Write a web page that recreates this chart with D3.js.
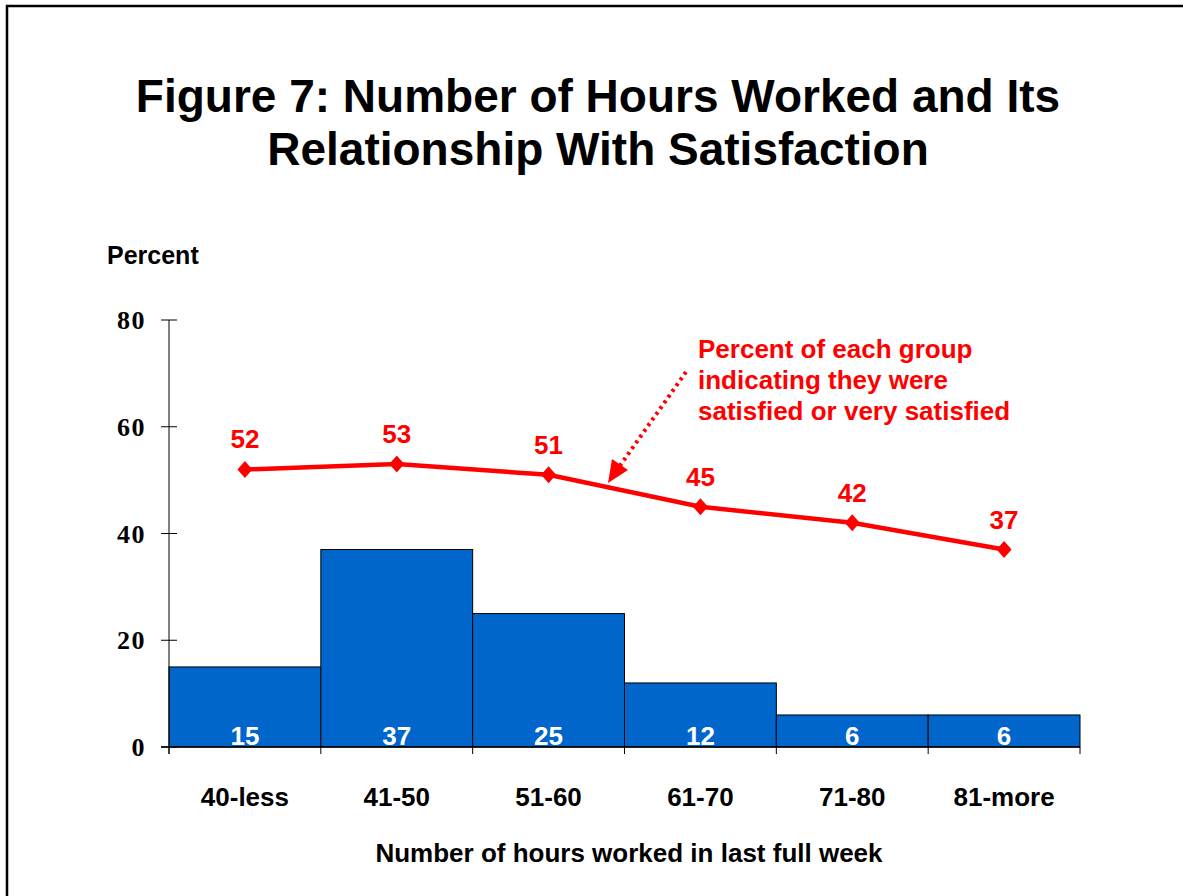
<!DOCTYPE html>
<html><head><meta charset="utf-8">
<script src="https://cdn.jsdelivr.net/npm/d3@7"></script>
<style>body{margin:0;background:#fff}svg{display:block}</style>
</head><body>
<svg id="c" width="1183" height="896"></svg>
<script>
const categories = ["40-less","41-50","51-60","61-70","71-80","81-more"];
const barValues = [15,37,25,12,6,6];
const satisfied = [52,53,51,45,42,37];
const yTicks = [0,20,40,60,80];
const titleLines = ["Figure 7: Number of Hours Worked and Its","Relationship With Satisfaction"];
const noteLines = ["Percent of each group","indicating they were","satisfied or very satisfied"];

const svg = d3.select("#c");
const sans = "Arial, 'Liberation Sans', sans-serif";
const serif = "'Times New Roman', 'Liberation Serif', serif";
const red = "#FF0000";

// frame
svg.append("rect").attr("x",7).attr("y",6).attr("width",1300).attr("height",1000)
  .attr("fill","none").attr("stroke","#000").attr("stroke-width",2.5);

const x = d3.scaleBand().domain(categories).range([169,1080]).padding(0);
const y = d3.scaleLinear().domain([0,80]).range([747,320]);

// title
svg.selectAll("text.title").data(titleLines).join("text").attr("class","title")
  .attr("x",598).attr("y",(d,i)=>112+i*53).attr("text-anchor","middle")
  .attr("font-family",sans).attr("font-weight","bold").attr("font-size",46).text(d=>d);

svg.append("text").attr("x",107).attr("y",264).attr("font-family",sans)
  .attr("font-weight","bold").attr("font-size",25).text("Percent");

// bars
svg.selectAll("rect.bar").data(barValues).join("rect").attr("class","bar")
  .attr("x",(d,i)=>x(categories[i])).attr("width",x.bandwidth())
  .attr("y",d=>y(d)).attr("height",d=>y(0)-y(d))
  .attr("fill","#0066CC").attr("stroke","#000").attr("stroke-width",1);

svg.selectAll("text.bv").data(barValues).join("text").attr("class","bv")
  .attr("x",(d,i)=>x(categories[i])+x.bandwidth()/2).attr("y",745)
  .attr("text-anchor","middle").attr("fill","#fff").attr("font-family",sans)
  .attr("font-weight","bold").attr("font-size",26).text(d=>d);

// y axis
svg.append("line").attr("x1",169).attr("x2",169).attr("y1",y(80)).attr("y2",y(0)+7).attr("stroke","#000");
svg.selectAll("line.yt").data(yTicks).join("line").attr("class","yt")
  .attr("x1",161).attr("x2",177).attr("y1",d=>y(d)).attr("y2",d=>y(d)).attr("stroke","#000");
svg.selectAll("text.yl").data(yTicks).join("text").attr("class","yl")
  .attr("x",146).attr("y",d=>y(d)).attr("dy","0.35em").attr("text-anchor","end")
  .attr("font-family",serif).attr("font-weight","bold").attr("font-size",26)
  .attr("letter-spacing",1.5).text(d=>d);

// x axis
svg.append("line").attr("x1",161).attr("x2",1080).attr("y1",y(0)).attr("y2",y(0)).attr("stroke","#000").attr("stroke-width",1.5);
const bounds = categories.map(c=>x(c)).concat([x.range()[1]]);
svg.selectAll("line.xt").data(bounds).join("line").attr("class","xt")
  .attr("x1",d=>d).attr("x2",d=>d).attr("y1",y(0)).attr("y2",y(0)+7).attr("stroke","#000");
svg.selectAll("text.xl").data(categories).join("text").attr("class","xl")
  .attr("x",d=>x(d)+x.bandwidth()/2).attr("y",806).attr("text-anchor","middle")
  .attr("font-family",sans).attr("font-weight","bold").attr("font-size",26).text(d=>d);
svg.append("text").attr("x",629).attr("y",862).attr("text-anchor","middle")
  .attr("font-family",sans).attr("font-weight","bold").attr("font-size",26)
  .text("Number of hours worked in last full week");

// line
const cx = (d,i)=>x(categories[i])+x.bandwidth()/2;
svg.append("path").datum(satisfied)
  .attr("d",d3.line().x(cx).y(d=>y(d)))
  .attr("fill","none").attr("stroke",red).attr("stroke-width",4.5);
svg.selectAll("path.mk").data(satisfied).join("path").attr("class","mk")
  .attr("transform",(d,i)=>`translate(${cx(d,i)},${y(d)})`)
  .attr("d","M0,-8.5L7.5,0L0,8.5L-7.5,0Z").attr("fill",red);
svg.selectAll("text.lv").data(satisfied).join("text").attr("class","lv")
  .attr("x",cx).attr("y",d=>y(d)-21).attr("text-anchor","middle")
  .attr("fill",red).attr("font-family",sans).attr("font-weight","bold").attr("font-size",26).text(d=>d);

// annotation
svg.selectAll("text.note").data(noteLines).join("text").attr("class","note")
  .attr("x",698).attr("y",(d,i)=>358+i*31).attr("fill",red)
  .attr("font-family",sans).attr("font-weight","bold").attr("font-size",26).text(d=>d);
svg.append("line").attr("x1",686).attr("y1",372).attr("x2",619).attr("y2",467)
  .attr("stroke",red).attr("stroke-width",4).attr("stroke-dasharray","3,4");
svg.append("path").attr("d","M608,483L612,459L628,470Z").attr("fill",red);
</script>
</body></html>
